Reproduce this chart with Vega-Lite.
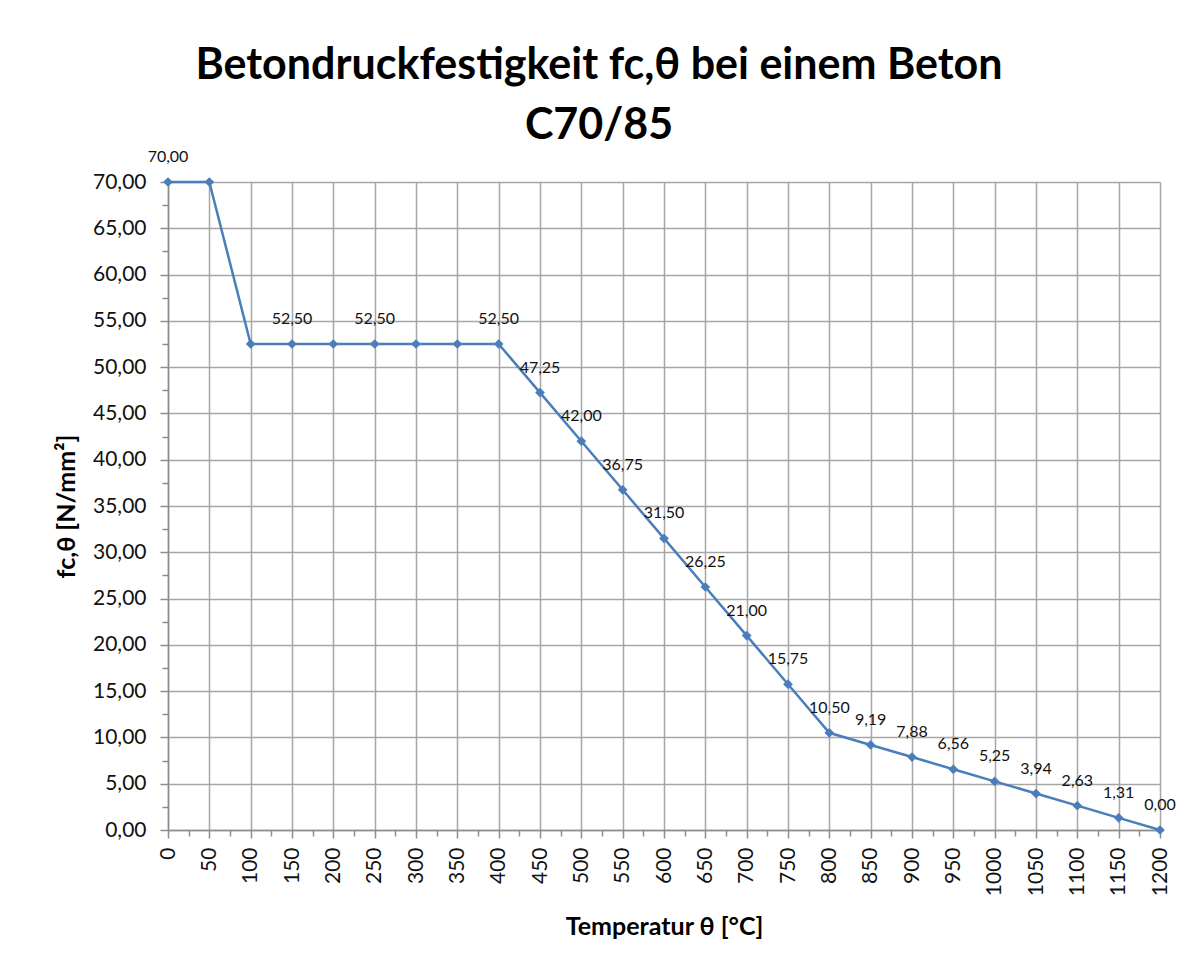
{
  "$schema": "https://vega.github.io/schema/vega-lite/v6.json",
  "width": 992,
  "height": 648,
  "autosize": "none",
  "padding": {"left": 168, "top": 182, "right": 24, "bottom": 144},
  "background": "white",
  "title": {
    "text": ["Betondruckfestigkeit fc,θ bei einem Beton", "C70/85"],
    "anchor": "middle",
    "frame": "group",
    "dx": -65,
    "offset": 1,
    "font": "Lato",
    "fontSize": 43,
    "fontWeight": "bold",
    "color": "#000000",
    "lineHeight": 60
  },
  "data": {
    "values": [
      {"temperatur": 0, "fc": 70.0, "beschriftet": true},
      {"temperatur": 50, "fc": 70.0, "beschriftet": false},
      {"temperatur": 100, "fc": 52.5, "beschriftet": false},
      {"temperatur": 150, "fc": 52.5, "beschriftet": true},
      {"temperatur": 200, "fc": 52.5, "beschriftet": false},
      {"temperatur": 250, "fc": 52.5, "beschriftet": true},
      {"temperatur": 300, "fc": 52.5, "beschriftet": false},
      {"temperatur": 350, "fc": 52.5, "beschriftet": false},
      {"temperatur": 400, "fc": 52.5, "beschriftet": true},
      {"temperatur": 450, "fc": 47.25, "beschriftet": true},
      {"temperatur": 500, "fc": 42.0, "beschriftet": true},
      {"temperatur": 550, "fc": 36.75, "beschriftet": true},
      {"temperatur": 600, "fc": 31.5, "beschriftet": true},
      {"temperatur": 650, "fc": 26.25, "beschriftet": true},
      {"temperatur": 700, "fc": 21.0, "beschriftet": true},
      {"temperatur": 750, "fc": 15.75, "beschriftet": true},
      {"temperatur": 800, "fc": 10.5, "beschriftet": true},
      {"temperatur": 850, "fc": 9.19, "beschriftet": true},
      {"temperatur": 900, "fc": 7.88, "beschriftet": true},
      {"temperatur": 950, "fc": 6.56, "beschriftet": true},
      {"temperatur": 1000, "fc": 5.25, "beschriftet": true},
      {"temperatur": 1050, "fc": 3.94, "beschriftet": true},
      {"temperatur": 1100, "fc": 2.63, "beschriftet": true},
      {"temperatur": 1150, "fc": 1.31, "beschriftet": true},
      {"temperatur": 1200, "fc": 0.0, "beschriftet": true}
    ]
  },
  "layer": [
    {
      "mark": {"type": "point", "opacity": 0},
      "encoding": {
        "x": {
          "field": "temperatur", "type": "quantitative",
          "scale": {"domain": [0, 1200], "nice": false, "zero": false},
          "axis": {
            "orient": "bottom",
            "values": [25, 75, 125, 175, 225, 275, 325, 375, 425, 475, 525, 575, 625, 675, 725, 775, 825, 875, 925, 975, 1025, 1075, 1125, 1175],
            "labels": false, "grid": false, "domain": false, "title": null,
            "ticks": true, "tickSize": 6, "tickColor": "#8c8c8c", "tickWidth": 1.5
          }
        },
        "y": {
          "field": "fc", "type": "quantitative",
          "scale": {"domain": [0, 70], "nice": false, "zero": true},
          "axis": {
            "orient": "left",
            "values": [2.5, 7.5, 12.5, 17.5, 22.5, 27.5, 32.5, 37.5, 42.5, 47.5, 52.5, 57.5, 62.5, 67.5],
            "labels": false, "grid": false, "domain": false, "title": null,
            "ticks": true, "tickSize": 6, "tickColor": "#8c8c8c", "tickWidth": 1.5
          }
        }
      }
    },
    {
      "mark": {
        "type": "line",
        "color": "#4A7EBB",
        "strokeWidth": 2.5,
        "point": {"shape": "diamond", "size": 95, "filled": true, "color": "#4A7EBB", "opacity": 1}
      },
      "encoding": {
        "x": {
          "field": "temperatur", "type": "quantitative",
          "scale": {"domain": [0, 1200], "nice": false, "zero": false},
          "axis": {
            "orient": "bottom",
            "values": [0, 50, 100, 150, 200, 250, 300, 350, 400, 450, 500, 550, 600, 650, 700, 750, 800, 850, 900, 950, 1000, 1050, 1100, 1150, 1200],
            "format": "d",
            "labelAngle": -90,
            "labelFont": "Lato",
            "labelFontSize": 21,
            "labelColor": "#111111",
            "labelPadding": 9,
            "labelOverlap": false,
            "labelFlush": false,
            "tickSize": 8,
            "tickColor": "#8c8c8c",
            "tickWidth": 1.5,
            "domainColor": "#8c8c8c",
            "domainWidth": 1.5,
            "grid": true,
            "gridColor": "#a6a6a6",
            "gridWidth": 1.5,
            "title": "Temperatur θ  [°C]",
            "titleFont": "Lato",
            "titleFontSize": 25,
            "titleFontWeight": "bold",
            "titleColor": "#000000",
            "titlePadding": 19
          }
        },
        "y": {
          "field": "fc", "type": "quantitative",
          "scale": {"domain": [0, 70], "nice": false, "zero": true},
          "axis": {
            "orient": "left",
            "values": [0, 5, 10, 15, 20, 25, 30, 35, 40, 45, 50, 55, 60, 65, 70],
            "format": ".2f",
            "labelFont": "Lato",
            "labelFontSize": 21,
            "labelColor": "#111111",
            "labelPadding": 14,
            "labelOverlap": false,
            "labelFlush": false,
            "tickSize": 8,
            "tickColor": "#8c8c8c",
            "tickWidth": 1.5,
            "domainColor": "#8c8c8c",
            "domainWidth": 1.5,
            "grid": true,
            "gridColor": "#a6a6a6",
            "gridWidth": 1.5,
            "title": "fc,θ  [N/mm²]",
            "titleFont": "Lato",
            "titleFontSize": 25,
            "titleFontWeight": "bold",
            "titleColor": "#000000",
            "titlePadding": 13
          }
        }
      }
    },
    {
      "transform": [{"filter": "datum.beschriftet"}],
      "mark": {
        "type": "text",
        "font": "Lato",
        "fontSize": 16,
        "color": "#111111",
        "align": "center",
        "baseline": "alphabetic",
        "dy": -20
      },
      "encoding": {
        "x": {"field": "temperatur", "type": "quantitative", "axis": null},
        "y": {"field": "fc", "type": "quantitative", "axis": null},
        "text": {"field": "fc", "type": "quantitative", "format": ".2f"}
      }
    }
  ],
  "resolve": {"axis": {"x": "independent", "y": "independent"}},
  "config": {
    "locale": {
      "number": {"decimal": ",", "thousands": ".", "grouping": [3], "currency": ["", " €"]}
    },
    "view": {"stroke": null}
  }
}
